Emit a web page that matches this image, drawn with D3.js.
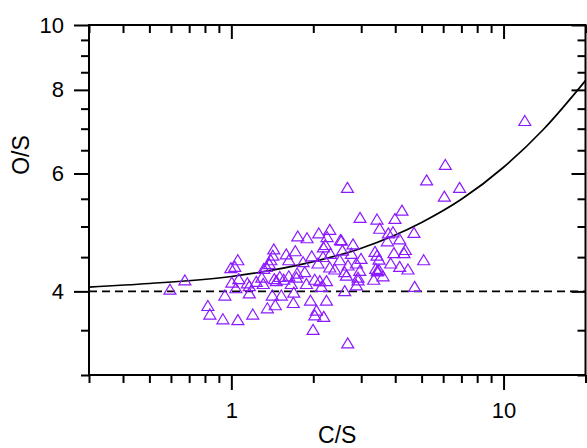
<!DOCTYPE html>
<html>
<head>
<meta charset="utf-8">
<script src="https://cdn.jsdelivr.net/npm/d3@7/dist/d3.min.js"></script>
<style>
  body { margin: 0; background: #fff; }
  text { font-family: "Liberation Sans", Arial, sans-serif; }
</style>
</head>
<body>
<div id="chart"></div>
<script>
// measured samples (C/S, O/S)
const csValues = [
  0.595, 0.675, 0.820, 0.834, 0.931, 1.057, 1.199, 0.947, 0.996, 1.030,
  1.056, 1.004, 1.039, 1.065, 1.145, 1.164, 1.164, 1.235, 1.294, 1.310,
  1.316, 1.344, 1.379, 1.396, 1.420, 1.432, 1.438, 1.507, 1.463, 1.414,
  1.450, 1.356, 1.526, 1.591, 1.626, 1.626, 1.660, 1.696, 1.689, 1.718,
  1.754, 4.234, 2.970, 3.428, 3.991, 3.508, 3.925, 3.775, 4.686, 3.743,
  4.153, 2.299, 2.095, 1.897, 2.247, 2.516, 2.54, 2.217, 2.179, 2.799,
  4.358, 4.307, 3.957, 3.371, 1.974, 2.172, 2.312, 2.559, 2.761, 2.995,
  3.428, 3.487, 3.849, 4.153, 4.455, 5.087, 1.835, 2.082, 2.299, 2.502,
  2.683, 2.880, 3.391, 3.487, 3.44, 3.44, 3.334, 3.607, 2.962, 2.920,
  2.609, 2.647, 2.398, 2.236, 2.113, 2.143, 2.025, 1.861, 1.744, 1.735,
  1.888, 1.953, 2.236, 2.609, 2.880, 2.920, 4.714, 2.054, 2.025, 2.185,
  1.996, 2.676, 11.97, 6.11, 5.217, 6.894, 6.06, 2.670, 1.558
];
const osValues = [
  4.03, 4.16, 3.81, 3.70, 3.64, 3.63, 3.70, 3.95, 4.34, 4.36,
  4.46, 4.13, 4.05, 4.18, 4.12, 4.08, 3.98, 4.14, 4.20, 4.11,
  4.33, 4.36, 4.40, 4.46, 4.53, 4.63, 4.18, 4.21, 4.15, 3.95,
  3.82, 3.78, 3.95, 4.55, 4.46, 4.22, 4.11, 3.99, 3.85, 4.60,
  4.84, 5.29, 5.16, 5.13, 5.14, 4.97, 4.91, 4.89, 4.90, 4.76,
  4.79, 4.95, 4.89, 4.81, 4.83, 4.78, 4.77, 4.70, 4.66, 4.71,
  4.62, 4.57, 4.57, 4.59, 4.52, 4.51, 4.56, 4.61, 4.56, 4.48,
  4.53, 4.47, 4.41, 4.36, 4.32, 4.46, 4.43, 4.41, 4.35, 4.46,
  4.38, 4.41, 4.33, 4.31, 4.30, 4.29, 4.17, 4.22, 4.30, 4.20,
  4.28, 4.23, 4.32, 4.15, 4.15, 4.07, 4.17, 4.28, 4.26, 4.20,
  4.11, 3.88, 3.88, 4.01, 4.09, 4.16, 4.07, 3.75, 3.69, 3.67,
  3.51, 3.35, 7.20, 6.19, 5.87, 5.72, 5.55, 5.72, 4.17
];

// model curve
const fitCS = [0.3, 0.5, 1, 2, 3, 5, 7, 10, 14, 20];
const fitOS = [4.06, 4.11, 4.21, 4.43, 4.64, 5.07, 5.49, 6.13, 6.98, 8.26];
const refOS = 4;

const xMajor = [1, 10];
const xMinor = [0.3, 0.4, 0.5, 0.6, 0.7, 0.8, 0.9, 2, 3, 4, 5, 6, 7, 8, 9, 20];
const yMajor = [4, 6, 8, 10];
const yMinor = [3, 3.5, 4.5, 5, 5.5, 6.5, 7, 7.5, 8.5, 9, 9.5];

const W = 587, H = 448;
const margin = { top: 25, right: 1.5, bottom: 73, left: 89 };
const iw = W - margin.left - margin.right;
const ih = H - margin.top - margin.bottom;

const svg = d3.select("#chart").append("svg")
  .attr("width", W).attr("height", H);

const g = svg.append("g")
  .attr("transform", `translate(${margin.left},${margin.top})`);

const x = d3.scaleLog().domain([0.3, 20]).range([0, iw]);
const y = d3.scaleLog().domain([3, 10]).range([ih, 0]);

// reference line and model curve
g.append("line")
  .attr("x1", 0).attr("x2", iw)
  .attr("y1", y(refOS)).attr("y2", y(refOS))
  .attr("stroke", "#000").attr("stroke-width", 1.6)
  .attr("stroke-dasharray", "8,5");

const fitPts = fitCS.map((c, i) => [c, fitOS[i]]);
g.append("path")
  .datum(fitPts)
  .attr("fill", "none").attr("stroke", "#000").attr("stroke-width", 1.7)
  .attr("d", d3.line().x(d => x(d[0])).y(d => y(d[1])).curve(d3.curveMonotoneX));

// points
const pts = csValues.map((c, i) => [c, osValues[i]]);
g.append("g").selectAll("path")
  .data(pts)
  .join("path")
  .attr("transform", d => `translate(${x(d[0])},${y(d[1])})`)
  .attr("d", "M0,-5L6,5L-6,5Z")
  .attr("fill", "none")
  .attr("stroke", "#8c1aff")
  .attr("stroke-width", 1.2);

// axes
function styleAxis(sel) {
  sel.select(".domain").remove();
  sel.selectAll("line").attr("stroke", "#000").attr("stroke-width", 2);
  sel.selectAll("text").attr("font-size", 22).attr("fill", "#000");
}

g.append("g").attr("transform", `translate(0,${ih})`)
  .call(d3.axisBottom(x).tickValues(xMinor).tickSize(8).tickFormat(""))
  .call(styleAxis);
g.append("g").attr("transform", `translate(0,${ih})`)
  .call(d3.axisBottom(x).tickValues(xMajor).tickSize(15).tickPadding(12).tickFormat(d3.format("d")))
  .call(styleAxis);

g.append("g")
  .call(d3.axisTop(x).tickValues(xMinor).tickSize(-8).tickFormat(""))
  .call(styleAxis);
g.append("g")
  .call(d3.axisTop(x).tickValues(xMajor).tickSize(-14).tickFormat(""))
  .call(styleAxis);

g.append("g")
  .call(d3.axisLeft(y).tickValues(yMinor).tickSize(8).tickFormat(""))
  .call(styleAxis);
g.append("g")
  .call(d3.axisLeft(y).tickValues(yMajor).tickSize(15).tickPadding(10).tickFormat(d3.format("d")))
  .call(styleAxis);

g.append("g").attr("transform", `translate(${iw},0)`)
  .call(d3.axisRight(y).tickValues(yMinor).tickSize(-8).tickFormat(""))
  .call(styleAxis);
g.append("g").attr("transform", `translate(${iw},0)`)
  .call(d3.axisRight(y).tickValues(yMajor).tickSize(-14).tickFormat(""))
  .call(styleAxis);

// frame
g.append("rect")
  .attr("width", iw).attr("height", ih)
  .attr("fill", "none").attr("stroke", "#000").attr("stroke-width", 2);

// titles
svg.append("text")
  .attr("x", margin.left + iw / 2).attr("y", 443)
  .attr("text-anchor", "middle").attr("font-size", 23)
  .text("C/S");

svg.append("text")
  .attr("transform", `translate(29,155) rotate(-90)`)
  .attr("text-anchor", "middle").attr("font-size", 23)
  .text("O/S");
</script>
</body>
</html>
